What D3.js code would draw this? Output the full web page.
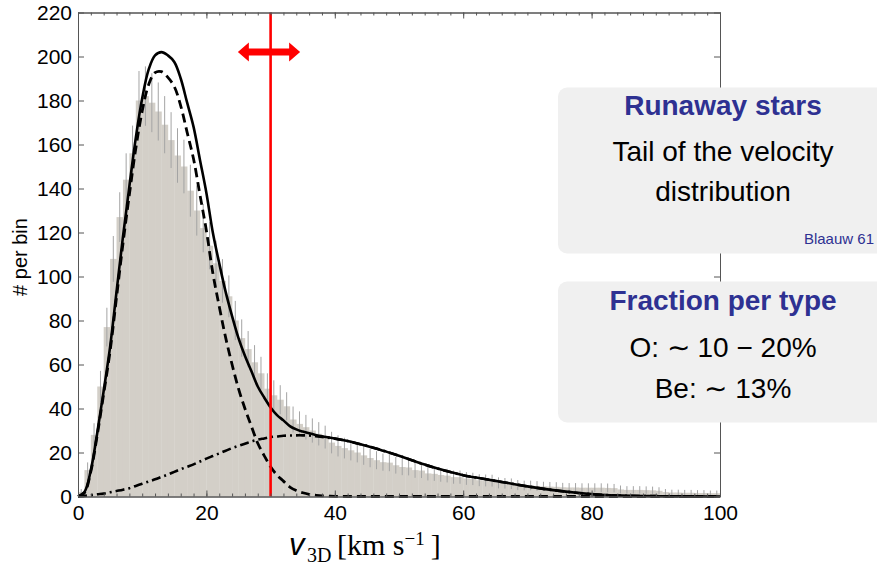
<!DOCTYPE html>
<html>
<head>
<meta charset="utf-8">
<script src="https://cdn.jsdelivr.net/npm/d3@7"></script>
<style>
  body { margin: 0; background: #fff; }
  svg { display: block; font-family: "Liberation Sans", Arial, Helvetica, sans-serif; }
</style>
</head>
<body>
<div id="grafica"></div>
<script>
// Histograma: un bin por km/s, de 0 a 100
const binValues = [2,12,28,50,77,108,127,144,156,180,
  182,179,175,169,162,155,150,139,130,122,
  114,106,98,91,80,72,67,61,56,49,
  46,44,41,35,33,31.5,30,28.5,27,24.5,
  23,22,21,20,18.7,17.5,16.5,15.6,15.4,14.2,
  13.4,13.2,12,11.8,10.5,10.3,9.8,9.5,8.8,8.8,
  8.2,8,7.4,7.3,7.2,6.2,6,5.8,5.2,5,
  5,4.8,4.6,4.5,4.4,4.2,4.1,4.1,4,4,
  4,4,3.9,3.8,3.2,3,3,3,2.9,2.8,
  2.6,2,1.8,1.8,1.7,1.7,1.6,1.6,1.5,1.5];
const binErr = [1.4,3.5,5.3,7.1,8.8,10.4,11.3,12,12.6,13.4,
  13.5,13.4,13.2,13,12.7,12.4,12.2,11.8,11.4,11,
  10.7,10.3,9.9,9.5,8.9,8.5,8.2,7.8,7.5,7,
  6.8,6.6,6.4,5.9,5.7,5.6,5.5,5.3,5.2,4.9,
  4.8,4.7,4.6,4.5,4.3,4.2,4.1,3.9,3.9,3.8,
  3.7,3.6,3.5,3.4,3.2,3.2,3.1,3.1,3,3,
  2.9,2.8,2.7,2.7,2.7,2.5,2.4,2.4,2.3,2.2,
  2.2,2.2,2.1,2.1,2.1,2,2,2,2,2,
  2,2,2,1.9,1.8,1.7,1.7,1.7,1.7,1.7,
  1.6,1.4,1.3,1.3,1.3,1.3,1.3,1.3,1.2,1.2];

// Curvas del ajuste
const curveV = [0,1,2,3,4,5,6,7,8,9,10,11,12,13,14,15,16,17,18,19,
  20,21,22,23,24,25,26,27,28,29,30,31,32,33,34,35,36,37,38,
  40,42,44,46,48,50,52,54,56,58,60,62,64,66,68,70,72,74,76,78,80,
  82,84,86,88,90,92,94,96,98,100];
const totalFit = [0,2,12,29,48,68,93,118,141,163,181,194,200.5,202,200.5,197.5,190,179,168,153,
  138,120,106,93,82,72,64,57,50,45,40.5,37,34.6,32,30.5,29.5,28.7,28,27.4,
  26.4,25.2,23.8,22.2,20.4,18.5,16.5,14.5,12.7,11.1,9.7,8.6,7.6,6.6,5.6,4.6,3.7,2.9,2.2,1.6,1.1,
  0.7,0.45,0.3,0.2,0.15,0.1,0.08,0.05,0.03,0.02];
const lowFit = [0,1.7,11.4,28,46.7,66.1,90.5,114.9,137.2,158.2,175.2,187.2,192.7,193.1,190.5,186.3,177.6,165.5,153.4,137.1,
  120.8,101.6,86.4,72.2,60,49,40,32,24.2,18.6,13.5,9.7,7,4.3,2.7,1.7,1,0.6,0.3,
  0.1,0,0,0,0,0,0,0,0,0,0,0,0,0,0,0,0,0,0,0,0,
  0,0,0,0,0,0,0,0,0,0];
const highFit = [0,0.3,0.6,1,1.3,1.9,2.5,3.1,3.8,4.8,5.8,6.8,7.8,8.9,10,11.2,12.4,13.5,14.6,15.9,
  17.2,18.4,19.6,20.8,22,23,24,25,25.8,26.4,27,27.3,27.6,27.7,27.8,27.8,27.7,27.4,27.1,
  26.3,25.2,23.8,22.2,20.4,18.5,16.5,14.5,12.7,11.1,9.7,8.6,7.6,6.6,5.6,4.6,3.7,2.9,2.2,1.6,1.1,
  0.7,0.45,0.3,0.2,0.15,0.1,0.08,0.05,0.03,0.02];

const xTicks = [0,20,40,60,80,100];
const yTicks = [0,20,40,60,80,100,120,140,160,180,200,220];
const cutV = 30;
const arrowRange = [24.9, 34.6];
const arrowAt = 202;

const ancho = 877, alto = 565;
const azul = "#2e3192";
const marco = "#555";
const serif = "'Liberation Serif', 'Times New Roman', serif";

var svg = d3.select("#grafica").append("svg")
  .attr("width", ancho)
  .attr("height", alto);

var x = d3.scaleLinear().domain([0, 100]).range([78, 720]);
var y = d3.scaleLinear().domain([0, 220]).range([496.5, 12.5]);

//Barras del histograma
svg.append("g").selectAll("rect")
  .data(binValues)
  .enter()
  .append("rect")
  .attr("x", function(d, i) { return x(i); })
  .attr("width", function(d, i) { return x(i + 1) - x(i) + 0.3; })
  .attr("y", function(d) { return y(d); })
  .attr("height", function(d) { return y(0) - y(d); })
  .style("fill", "#d3cfc8");

//Barras de error
svg.append("g").selectAll("line")
  .data(binValues)
  .enter()
  .append("line")
  .attr("x1", function(d, i) { return x(i + 0.5); })
  .attr("x2", function(d, i) { return x(i + 0.5); })
  .attr("y1", function(d, i) { return y(Math.max(0, d - binErr[i])); })
  .attr("y2", function(d, i) { return y(d + binErr[i]); })
  .style("stroke", "#a4a4a4")
  .style("stroke-width", 1);

//Curvas
function linea(valores) {
  return d3.line()
    .x(function(d, i) { return x(curveV[i]); })
    .y(function(d) { return y(Math.max(0, d)); })
    .curve(d3.curveCatmullRom.alpha(0.5))(valores);
}

svg.append("path").attr("d", linea(highFit))
  .style("fill", "none").style("stroke", "#000").style("stroke-width", 2.6)
  .style("stroke-dasharray", "9,4,2,4");
svg.append("path").attr("d", linea(lowFit))
  .style("fill", "none").style("stroke", "#000").style("stroke-width", 2.8)
  .style("stroke-dasharray", "9,5");
svg.append("path").attr("d", linea(totalFit))
  .style("fill", "none").style("stroke", "#000").style("stroke-width", 2.6);

//Línea roja en 30 km/s
svg.append("line")
  .attr("x1", x(cutV)).attr("x2", x(cutV))
  .attr("y1", y(220)).attr("y2", y(0))
  .style("stroke", "#ff0000")
  .style("stroke-width", 2.6);

//Flecha doble
var xl = x(arrowRange[0]), xr = x(arrowRange[1]), yc = y(arrowAt);
var hl = 11, hh = 9.5, st = 3.5;
var puntos = [[xl, yc], [xl + hl, yc - hh], [xl + hl, yc - st], [xr - hl, yc - st], [xr - hl, yc - hh],
  [xr, yc], [xr - hl, yc + hh], [xr - hl, yc + st], [xl + hl, yc + st], [xl + hl, yc + hh]];
svg.append("path")
  .attr("d", d3.line()(puntos) + "Z")
  .style("fill", "#ff0000");

//Ejes
var minor = d3.range(0, 101, 2);
function estilo(g) {
  g.select(".domain").style("stroke", marco);
  g.selectAll(".tick line").style("stroke", marco);
  g.selectAll(".tick text").style("font-size", "21px").style("fill", "#000")
    .style("font-family", "'Liberation Sans', Arial, sans-serif");
}

svg.append("g")
  .attr("transform", "translate(" + x(0) + ",0)")
  .call(d3.axisLeft(y).tickValues(yTicks).tickSize(-6).tickSizeOuter(0).tickPadding(6))
  .call(estilo);
svg.append("g")
  .attr("transform", "translate(" + x(100) + ",0)")
  .call(d3.axisRight(y).tickValues(yTicks).tickSize(-6).tickSizeOuter(0).tickFormat(""))
  .call(estilo);
svg.append("g")
  .attr("transform", "translate(0," + y(0) + ")")
  .call(d3.axisBottom(x).tickValues(minor).tickSize(-3).tickSizeOuter(0).tickFormat(""))
  .call(estilo);
svg.append("g")
  .attr("transform", "translate(0," + y(0) + ")")
  .call(d3.axisBottom(x).tickValues(xTicks).tickSize(-6).tickSizeOuter(0).tickPadding(9))
  .call(estilo);
svg.append("g")
  .attr("transform", "translate(0," + y(220) + ")")
  .call(d3.axisTop(x).tickValues(minor).tickSize(-3).tickSizeOuter(0).tickFormat(""))
  .call(estilo);
svg.append("g")
  .attr("transform", "translate(0," + y(220) + ")")
  .call(d3.axisTop(x).tickValues(xTicks).tickSize(-6).tickSizeOuter(0).tickFormat(""))
  .call(estilo);

//Título del eje y
svg.append("text")
  .attr("transform", "translate(27,257) rotate(-90)")
  .attr("text-anchor", "middle")
  .style("font-size", "20px")
  .text("# per bin");

//Título del eje x
var tx = svg.append("text").attr("y", 555).style("fill", "#000");
tx.append("tspan").attr("x", 289).style("font-style", "italic").style("font-size", "31px").text("v");
tx.append("tspan").attr("x", 307).attr("dy", 7).style("font-family", serif)
  .style("font-size", "20px").text("3D");
tx.append("tspan").attr("x", 337).attr("dy", -7).style("font-family", serif)
  .style("font-size", "30px").text("[km s");
tx.append("tspan").attr("dy", -10).style("font-family", serif)
  .style("font-size", "19px").text("−1");
tx.append("tspan").attr("dx", 6).attr("dy", 10).style("font-family", serif)
  .style("font-size", "30px").text("]");

//Cuadros de texto
function cuadro(y0, h) {
  svg.append("rect")
    .attr("x", 558).attr("y", y0)
    .attr("width", 340).attr("height", h)
    .attr("rx", 9).attr("ry", 9)
    .style("fill", "#f0f0f0");
}
function texto(t, yy, size, color, bold) {
  svg.append("text")
    .attr("x", 723).attr("y", yy)
    .attr("text-anchor", "middle")
    .style("font-size", size + "px")
    .style("font-weight", bold ? "bold" : "normal")
    .style("fill", color)
    .text(t);
}

cuadro(87.5, 166);
texto("Runaway stars", 115, 28, azul, true);
texto("Tail of the velocity", 161, 28, "#000", false);
texto("distribution", 201, 28, "#000", false);
svg.append("text")
  .attr("x", 874).attr("y", 244)
  .attr("text-anchor", "end")
  .style("font-size", "15px")
  .style("fill", azul)
  .text("Blaauw 61");

cuadro(281.5, 141);
texto("Fraction per type", 310, 28, azul, true);
texto("O: ∼ 10 − 20%", 357, 28, "#000", false);
texto("Be: ∼ 13%", 398, 28, "#000", false);
</script>
</body>
</html>
